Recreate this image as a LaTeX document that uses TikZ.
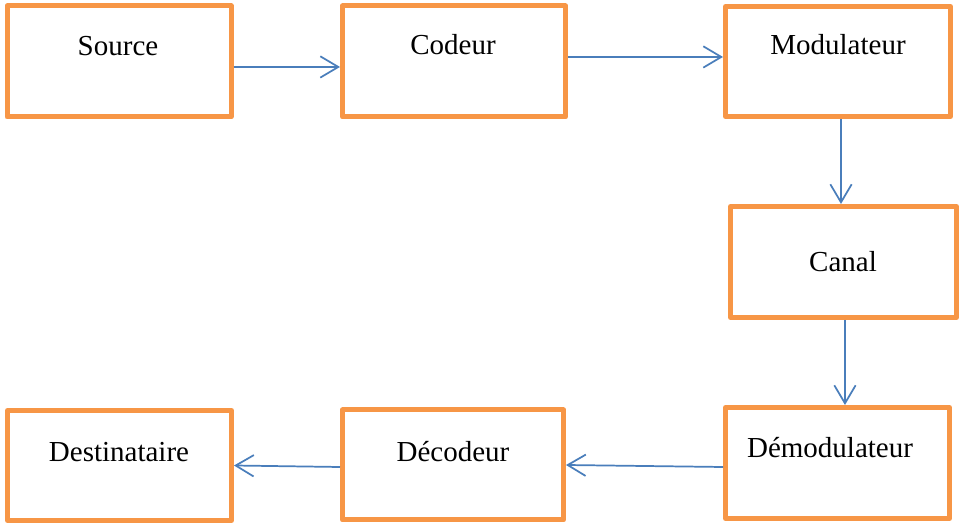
\documentclass[tikz,border=0pt]{standalone}
\usepackage{fontspec}
\setmainfont{Liberation Serif}
\usetikzlibrary{arrows.meta}
\definecolor{boxorange}{HTML}{F79646}
\definecolor{arrowblue}{HTML}{4A7EBB}
\begin{document}
\begin{tikzpicture}[x=0.75pt,y=-0.75pt,
  box/.style={draw=boxorange,line width=3.75pt,line join=round,fill=white,
    minimum width=224*0.75pt,minimum height=111*0.75pt,inner sep=0pt},
  lbl/.style={anchor=base,inner sep=0pt,font=\fontsize{21.75pt}{26pt}\selectfont},
  arr/.style={draw=arrowblue,line width=1.3pt,
    -{Straight Barb[length=13.5pt,width=16pt,line width=1.3pt]}}]
\useasboundingbox (0,0) rectangle (961,530);
% boxes
\node[box] (src) at (119,61.5) {};
\node[box,minimum width=223*0.75pt] (cod) at (454,61.5) {};
\node[box,minimum width=225*0.75pt,minimum height=110*0.75pt] (mod) at (838,61.5) {};
\node[box,minimum width=226*0.75pt] (can) at (843.5,262) {};
\node[box] (dem) at (837.5,463) {};
\node[box,minimum width=221*0.75pt,minimum height=110*0.75pt] (dec) at (453,465) {};
\node[box,minimum height=110*0.75pt] (dst) at (119.5,465.5) {};
% labels
\node[lbl] (tsrc) at (118,56) {Source};
\node[lbl] (tcod) at (453,55) {Codeur};
\node[lbl] (tmod) at (838,55) {Modulateur};
\node[lbl] (tcan) at (843,272) {Canal};
\node[lbl] (tdem) at (830,458) {Démodulateur};
\node[lbl] (tdec) at (453,462) {Décodeur};
\node[lbl] (tdst) at (119,462) {Destinataire};
% connectors
\draw[arr] ([yshift=-4.1pt]src.east) -- ([yshift=-4.1pt]cod.west);
\draw[arr] ([yshift=3.4pt]cod.east) -- ([yshift=3.4pt]cod.east -| mod.west);
\draw[arr] ([xshift=2.25pt]mod.south) -- ([xshift=2.25pt]mod.south |- can.north);
\draw[arr] ([xshift=1.1pt]can.south) -- ([xshift=1.1pt]can.south |- dem.north);
\draw[arr] ([yshift=-3pt]dem.west) -- (dec.east);
\draw[arr] ([yshift=-1.5pt]dec.west) -- ([yshift=0pt]dst.east);
\end{tikzpicture}
\end{document}
